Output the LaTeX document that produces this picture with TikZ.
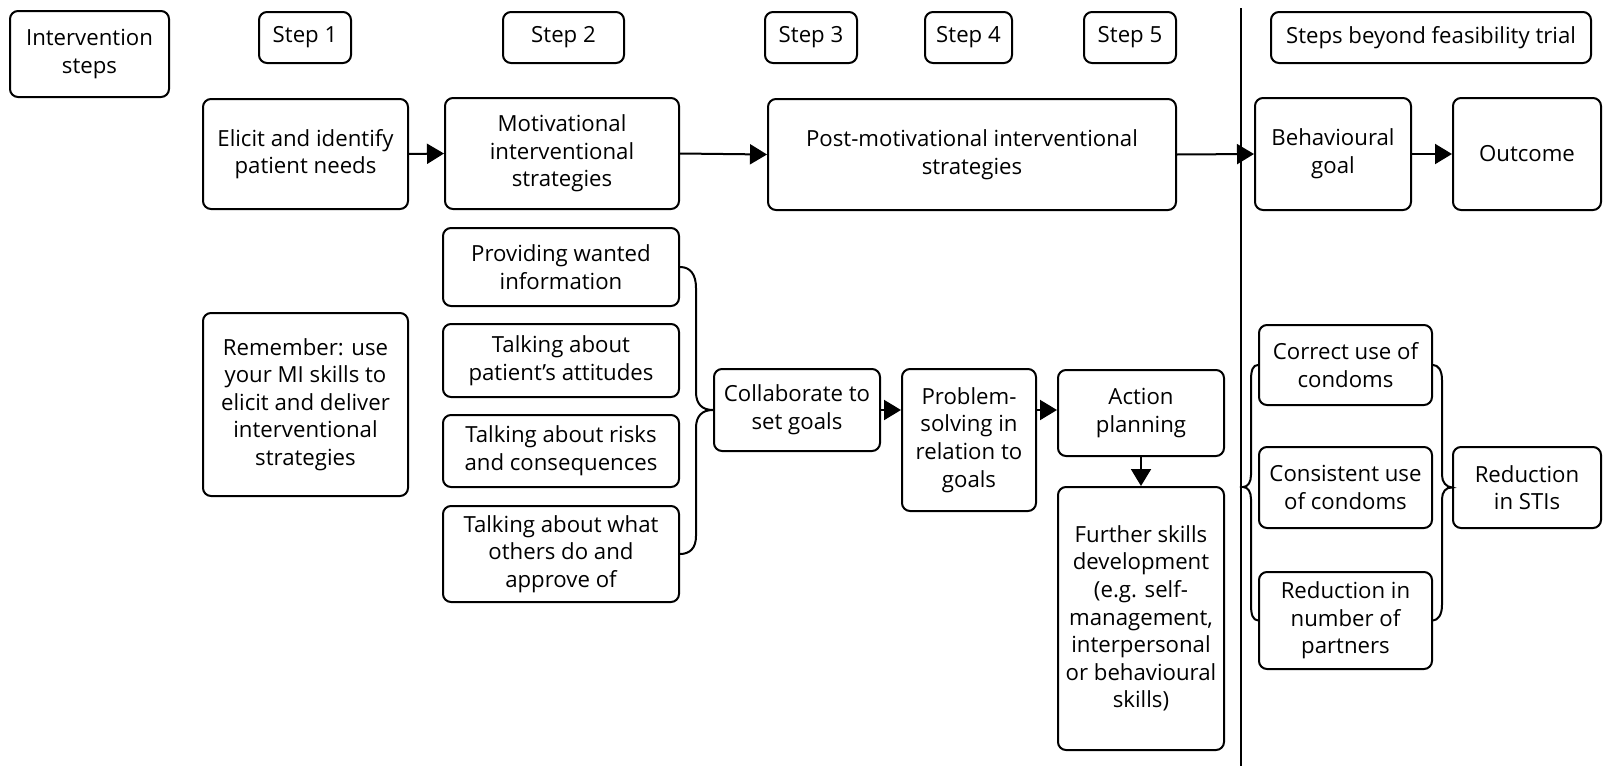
\documentclass[tikz,border=0pt]{standalone}
\usepackage{fontspec}
\setmainfont{Open Sans}
\usetikzlibrary{arrows.meta}
\newcommand\mybox[6]{\node[box,minimum width={(#4-#2)*0.5pt},minimum height={(#5-#3)*0.5pt}] (#1) at ({(#2+#4)/2},{(#3+#5)/2}) {#6};}
\begin{document}
\begin{tikzpicture}[x=0.5pt,y=-0.5pt,
 box/.style={draw, line width=1pt, rounded corners=4pt, align=center, inner sep=0pt, font=\fontsize{11.1pt}{13.8pt}\selectfont},
 arr/.style={line width=1pt, -{Triangle[length=8.5pt,width=10pt]}},
 bracel/.style={line width=1pt},
 divider/.style={line width=0.9pt}]
\useasboundingbox (0,0) rectangle (1603,766);
% header row
\mybox{iv}{10}{11}{169}{97}{Intervention\\steps}
\mybox{s1}{259}{12}{351}{63}{Step 1}
\mybox{s2}{503}{12}{624}{63}{Step 2}
\mybox{s3}{765}{12}{857}{63}{Step 3}
\mybox{s4}{925}{12}{1012}{63}{Step 4}
\mybox{s5}{1084}{12}{1176}{63}{Step 5}
\mybox{sb}{1271}{12}{1591}{63}{Steps beyond feasibility trial}
% main row
\mybox{eli}{203}{99}{408}{209}{Elicit and identify\\patient needs}
\mybox{mot}{445}{98}{679}{209}{Motivational\\interventional\\strategies}
\mybox{post}{768}{99}{1176}{210}{Post-motivational interventional\\strategies}
\mybox{beh}{1255}{98}{1411}{210}{Behavioural\\goal}
\mybox{out}{1453}{98}{1601}{210}{Outcome}
% step 2 details
\mybox{p1}{443}{228}{679}{306}{Providing wanted\\information}
\mybox{p2}{443}{324}{679}{397}{Talking about\\patient’s attitudes}
\mybox{p3}{443}{415}{679}{487}{Talking about risks\\and consequences}
\mybox{p4}{443}{506}{679}{602}{Talking about what\\others do and\\approve of}
\mybox{rem}{203}{313}{408}{496}{Remember: use\\your MI skills to\\elicit and deliver\\interventional\\strategies}
\mybox{col}{714}{369}{880}{451}{Collaborate to\\set goals}
\mybox{prob}{902}{369}{1036}{511}{Problem-\\solving in\\relation to\\goals}
\mybox{act}{1058}{370}{1224}{456}{Action\\planning}
\mybox{fur}{1058}{487}{1224}{750}{Further skills\\development\\(e.g. self-\\management,\\interpersonal\\or behavioural\\skills)}
% beyond
\mybox{c1}{1259}{325}{1432}{405}{Correct use of\\condoms}
\mybox{c2}{1259}{447}{1432}{528}{Consistent use\\of condoms}
\mybox{c3}{1259}{572}{1432}{669}{Reduction in\\number of\\partners}
\mybox{sti}{1453}{447}{1601}{528}{Reduction\\in STIs}
% divider
\coordinate (vt) at (1241,8);
\coordinate (vb) at (1241,766);
\draw[divider] (vt) -- (vb);
% arrows
\draw[arr] (eli.east) -- (mot.west);
\draw[arr] (mot.east) -- (post.west);
\draw[arr] (post.east) -- (beh.west);
\draw[arr] (beh.east) -- (out.west);
\draw[arr] (col.east) -- (prob.west |- col.east);
\draw[arr] (prob.east |- col.east) -- (act.west |- col.east);
\draw[arr] (act.south) -- (fur.north);
% brace step 2
\draw[bracel] (p1.east) .. controls (690,267) and (696,274) .. (696,288) -- (696,392)
  .. controls (696,404) and (702,410) .. (col.west)
  .. controls (702,410) and (696,416) .. (696,428) -- (696,536)
  .. controls (696,548) and (690,554) .. (p4.east);
% left brace condoms
\coordinate (lt) at (1243,487);
\draw[bracel] (c1.west) .. controls (1253,365) and (1251,370) .. (1251,380) -- (1251,475)
  .. controls (1251,482) and (1248,487) .. (lt)
  .. controls (1248,487) and (1251,492) .. (1251,499) -- (1251,605)
  .. controls (1251,615) and (1253,620) .. (c3.west);
% right brace
\draw[bracel] (c1.east) .. controls (1438,365) and (1442,370) .. (1442,380) -- (1442,475)
  .. controls (1442,482) and (1446,487) .. (sti.west)
  .. controls (1446,487) and (1442,492) .. (1442,499) -- (1442,605)
  .. controls (1442,615) and (1438,620) .. (c3.east);
\end{tikzpicture}
\end{document}
